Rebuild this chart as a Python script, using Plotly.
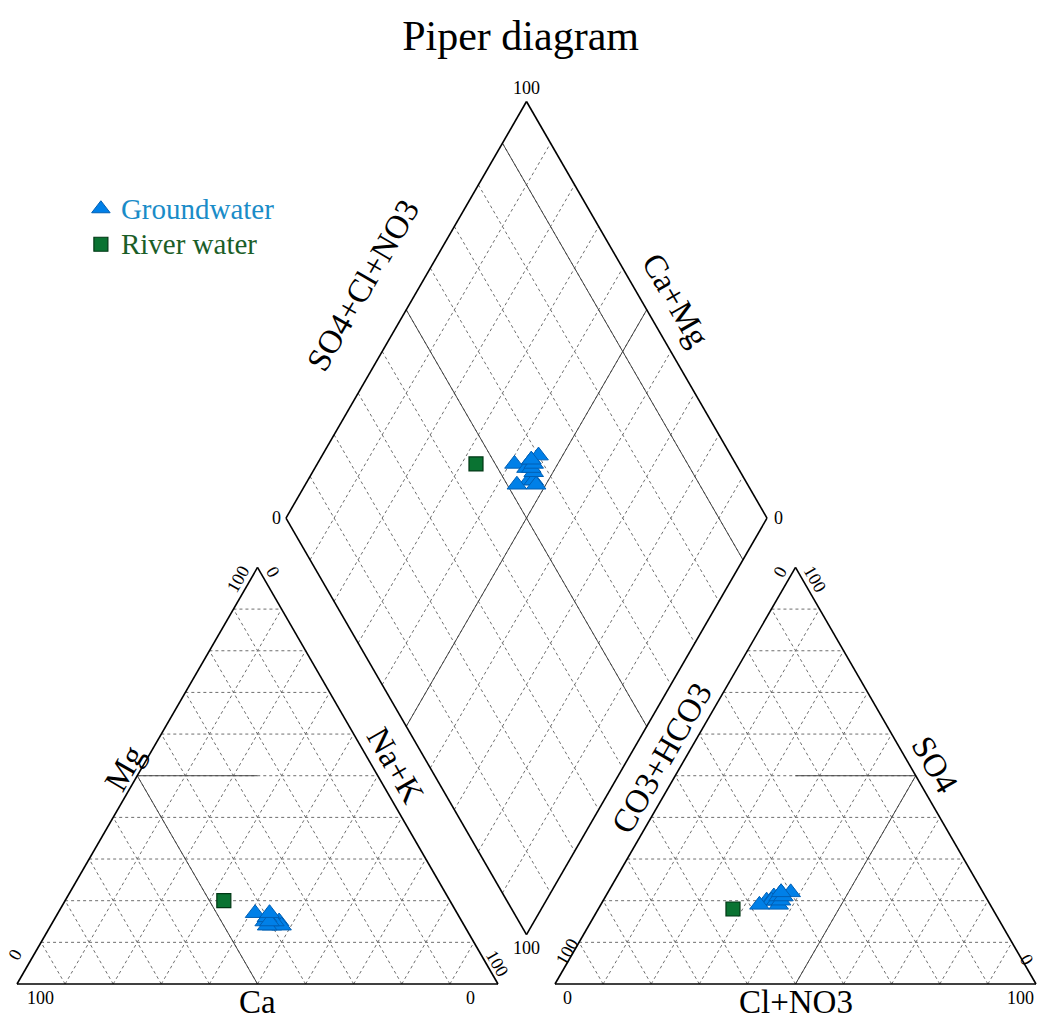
import numpy as np
import plotly.graph_objects as go

# ---------------- data (% meq/L) ----------------
gw_ca   = [42, 40, 41, 40, 38, 39, 38, 39, 41, 40, 40, 39]
gw_mg   = [17, 16, 15, 14, 15, 16, 14, 15, 14, 16, 15, 17]
gw_na   = [41, 44, 44, 46, 47, 45, 48, 46, 45, 44, 45, 44]
gw_hco3 = [46, 44, 42, 45, 44, 40, 44, 43, 43, 48, 42, 42]
gw_so4  = [20, 21, 22, 20, 20, 22, 19, 21, 20, 19, 21, 22]
gw_cl   = [34, 35, 36, 35, 36, 38, 37, 36, 37, 33, 37, 36]

rv_ca   = [47]
rv_mg   = [20]
rv_na   = [33]
rv_hco3 = [54]
rv_so4  = [18]
rv_cl   = [28]

grid_levels = [10, 20, 30, 40, 50, 60, 70, 80, 90]

# ---------------- geometry ----------------
S = np.sqrt(3) / 2
GAP = 11.85
RX0 = 100 + GAP          # left corner of anion triangle
DX0 = 100 + GAP / 2      # bottom vertex of diamond
DY0 = GAP * S


def cat_xy(ca, mg, na):
    ca, mg, na = (np.asarray(v, float) for v in (ca, mg, na))
    t = ca + mg + na
    return 100 * (na + mg / 2) / t, 100 * mg * S / t


def an_xy(hco3, so4, cl):
    hco3, so4, cl = (np.asarray(v, float) for v in (hco3, so4, cl))
    t = hco3 + so4 + cl
    return RX0 + 100 * (cl + so4 / 2) / t, 100 * so4 * S / t


def dia_xy(na, an):
    na, an = np.asarray(na, float), np.asarray(an, float)
    lx, ly = DX0 - 50, DY0 + 100 * S
    return lx + 0.5 * na + 0.5 * an, ly - S * na + S * an


def segs(pairs):
    xs, ys = [], []
    for (x1, y1), (x2, y2) in pairs:
        xs += [float(x1), float(x2), None]
        ys += [float(y1), float(y2), None]
    return xs, ys


grid = []
for i in grid_levels:
    j = 100 - i
    grid.append((cat_xy(j, i, 0), cat_xy(0, i, j)))
    grid.append((cat_xy(j, 0, i), cat_xy(0, j, i)))
    grid.append((cat_xy(i, 0, j), cat_xy(i, j, 0)))
    grid.append((an_xy(j, i, 0), an_xy(0, i, j)))
    grid.append((an_xy(j, 0, i), an_xy(0, j, i)))
    grid.append((an_xy(i, 0, j), an_xy(i, j, 0)))
    grid.append((dia_xy(i, 0), dia_xy(i, 100)))
    grid.append((dia_xy(0, i), dia_xy(100, i)))

solid = [
    (cat_xy(50, 0, 50), cat_xy(50, 50, 0)),
    (cat_xy(50, 50, 0), cat_xy(25, 50, 25)),
    (an_xy(50, 0, 50), an_xy(0, 50, 50)),
    (an_xy(0, 50, 50), an_xy(25, 50, 25)),
    (dia_xy(50, 0), dia_xy(50, 100)),
    (dia_xy(0, 50), dia_xy(100, 50)),
    (dia_xy(0, 90), dia_xy(100, 90)),
]

outline = [
    (cat_xy(100, 0, 0), cat_xy(0, 0, 100)),
    (cat_xy(0, 0, 100), cat_xy(0, 100, 0)),
    (cat_xy(0, 100, 0), cat_xy(100, 0, 0)),
    (an_xy(100, 0, 0), an_xy(0, 0, 100)),
    (an_xy(0, 0, 100), an_xy(0, 100, 0)),
    (an_xy(0, 100, 0), an_xy(100, 0, 0)),
    (dia_xy(0, 0), dia_xy(100, 0)),
    (dia_xy(100, 0), dia_xy(100, 100)),
    (dia_xy(100, 100), dia_xy(0, 100)),
    (dia_xy(0, 100), dia_xy(0, 0)),
]

fig = go.Figure()

gx, gy = segs(grid)
fig.add_trace(go.Scatter(x=gx, y=gy, mode="lines", showlegend=False, hoverinfo="skip",
                         line=dict(color="rgb(110,110,110)", width=1, dash="3px,3px")))
sx, sy = segs(solid)
fig.add_trace(go.Scatter(x=sx, y=sy, mode="lines", showlegend=False, hoverinfo="skip",
                         line=dict(color="rgb(70,70,70)", width=1)))
ox, oy = segs(outline)
fig.add_trace(go.Scatter(x=ox, y=oy, mode="lines", showlegend=False, hoverinfo="skip",
                         line=dict(color="black", width=1.6)))


def all_xy(ca, mg, na, hco3, so4, cl):
    cx, cy = cat_xy(ca, mg, na)
    ax, ay = an_xy(hco3, so4, cl)
    tc = np.asarray(ca, float) + np.asarray(mg, float) + np.asarray(na, float)
    ta = np.asarray(hco3, float) + np.asarray(so4, float) + np.asarray(cl, float)
    nap = 100 * np.asarray(na, float) / tc
    anp = 100 * (np.asarray(so4, float) + np.asarray(cl, float)) / ta
    dx, dy = dia_xy(nap, anp)
    return np.concatenate([cx, ax, dx]), np.concatenate([cy, ay, dy])


gwx, gwy = all_xy(gw_ca, gw_mg, gw_na, gw_hco3, gw_so4, gw_cl)
rvx, rvy = all_xy(rv_ca, rv_mg, rv_na, rv_hco3, rv_so4, rv_cl)

fig.add_trace(go.Scatter(
    x=gwx, y=gwy, mode="markers",
    name="<span style='color:#1a8cc8;font-size:29px'>Groundwater</span>",
    marker=dict(symbol="triangle-up", size=17, color="rgb(0,128,232)",
                line=dict(color="rgb(0,95,180)", width=1))))
fig.add_trace(go.Scatter(
    x=rvx, y=rvy, mode="markers",
    name="<span style='color:#1b5e28;font-size:29px'>River water</span>",
    marker=dict(symbol="square", size=14, color="rgb(10,115,50)",
                line=dict(color="rgb(0,55,20)", width=1.2))))

FONT = "Liberation Serif, Times New Roman, serif"
ann = []


def lab(x, y, text, angle=0, size=18):
    ann.append(dict(x=x, y=y, xref="x", yref="y", text=text, showarrow=False,
                    textangle=angle, font=dict(family=FONT, size=size, color="black"),
                    xanchor="center", yanchor="middle"))


# tick labels (0 / 100) at the corners
lab(4.8, -2.9, "100")
lab(94.2, -2.9, "0")
lab(-0.4, 6.0, "0", -60)
lab(45.9, 84.3, "100", -60)
lab(53.2, 85.6, "0", 60)
lab(99.8, 4.4, "100", 60)

lab(RX0 + 2.7, -2.9, "0")
lab(RX0 + 96.7, -2.9, "100")
lab(RX0 + 2.5, 6.6, "100", -60)
lab(RX0 + 46.8, 85.6, "0", -60)
lab(RX0 + 54.1, 84.3, "100", 60)
lab(RX0 + 98.1, 5.0, "0", 60)

lab(DX0, DY0 + 200 * S + 2.9, "100")
lab(DX0 - 50 - 1.9, DY0 + 100 * S, "0")
lab(DX0 + 50 + 2.3, DY0 + 100 * S, "0")
lab(DX0, DY0 - 2.8, "100")

# axis titles
T = 33
lab(22.3, 45.0, "Mg", -60, T)
lab(78.6, 45.5, "Na+K", 60, T)
lab(50, -3.75, "Ca", 0, T)
lab(RX0 + 22.2, 47.0, "CO3+HCO3", -60, T)
lab(RX0 + 79.0, 45.5, "SO4", 60, T)
lab(RX0 + 50, -3.75, "Cl+NO3", 0, T)
lab(DX0 - 34.0, DY0 + 100 * S + 48.5, "SO4+Cl+NO3", -60, T)
lab(DX0 + 31.0, DY0 + 100 * S + 45.3, "Ca+Mg", 60, T)

PX = 4.81
W, H = 1037, 1021
x0 = -17 / PX
y0 = -(H - 984) / PX

fig.update_layout(
    width=W, height=H,
    margin=dict(l=0, r=0, t=0, b=0),
    paper_bgcolor="white", plot_bgcolor="white",
    xaxis=dict(range=[x0, x0 + W / PX], visible=False, fixedrange=True),
    yaxis=dict(range=[y0, y0 + H / PX], visible=False, fixedrange=True),
    title=dict(text="Piper diagram", x=0.502, y=1 - 35 / H, xanchor="center", yanchor="middle",
               font=dict(family=FONT, size=42, color="black")),
    legend=dict(x=0.078, y=1 - 186 / H, xanchor="left", yanchor="top",
                font=dict(family=FONT, size=25), bgcolor="rgba(0,0,0,0)",
                itemwidth=30, tracegroupgap=0),
    annotations=ann,
    showlegend=True,
)

fig.write_html("out.html", config={"displayModeBar": False},
               post_script="document.body.style.margin='0px';document.body.style.overflow='hidden';")
